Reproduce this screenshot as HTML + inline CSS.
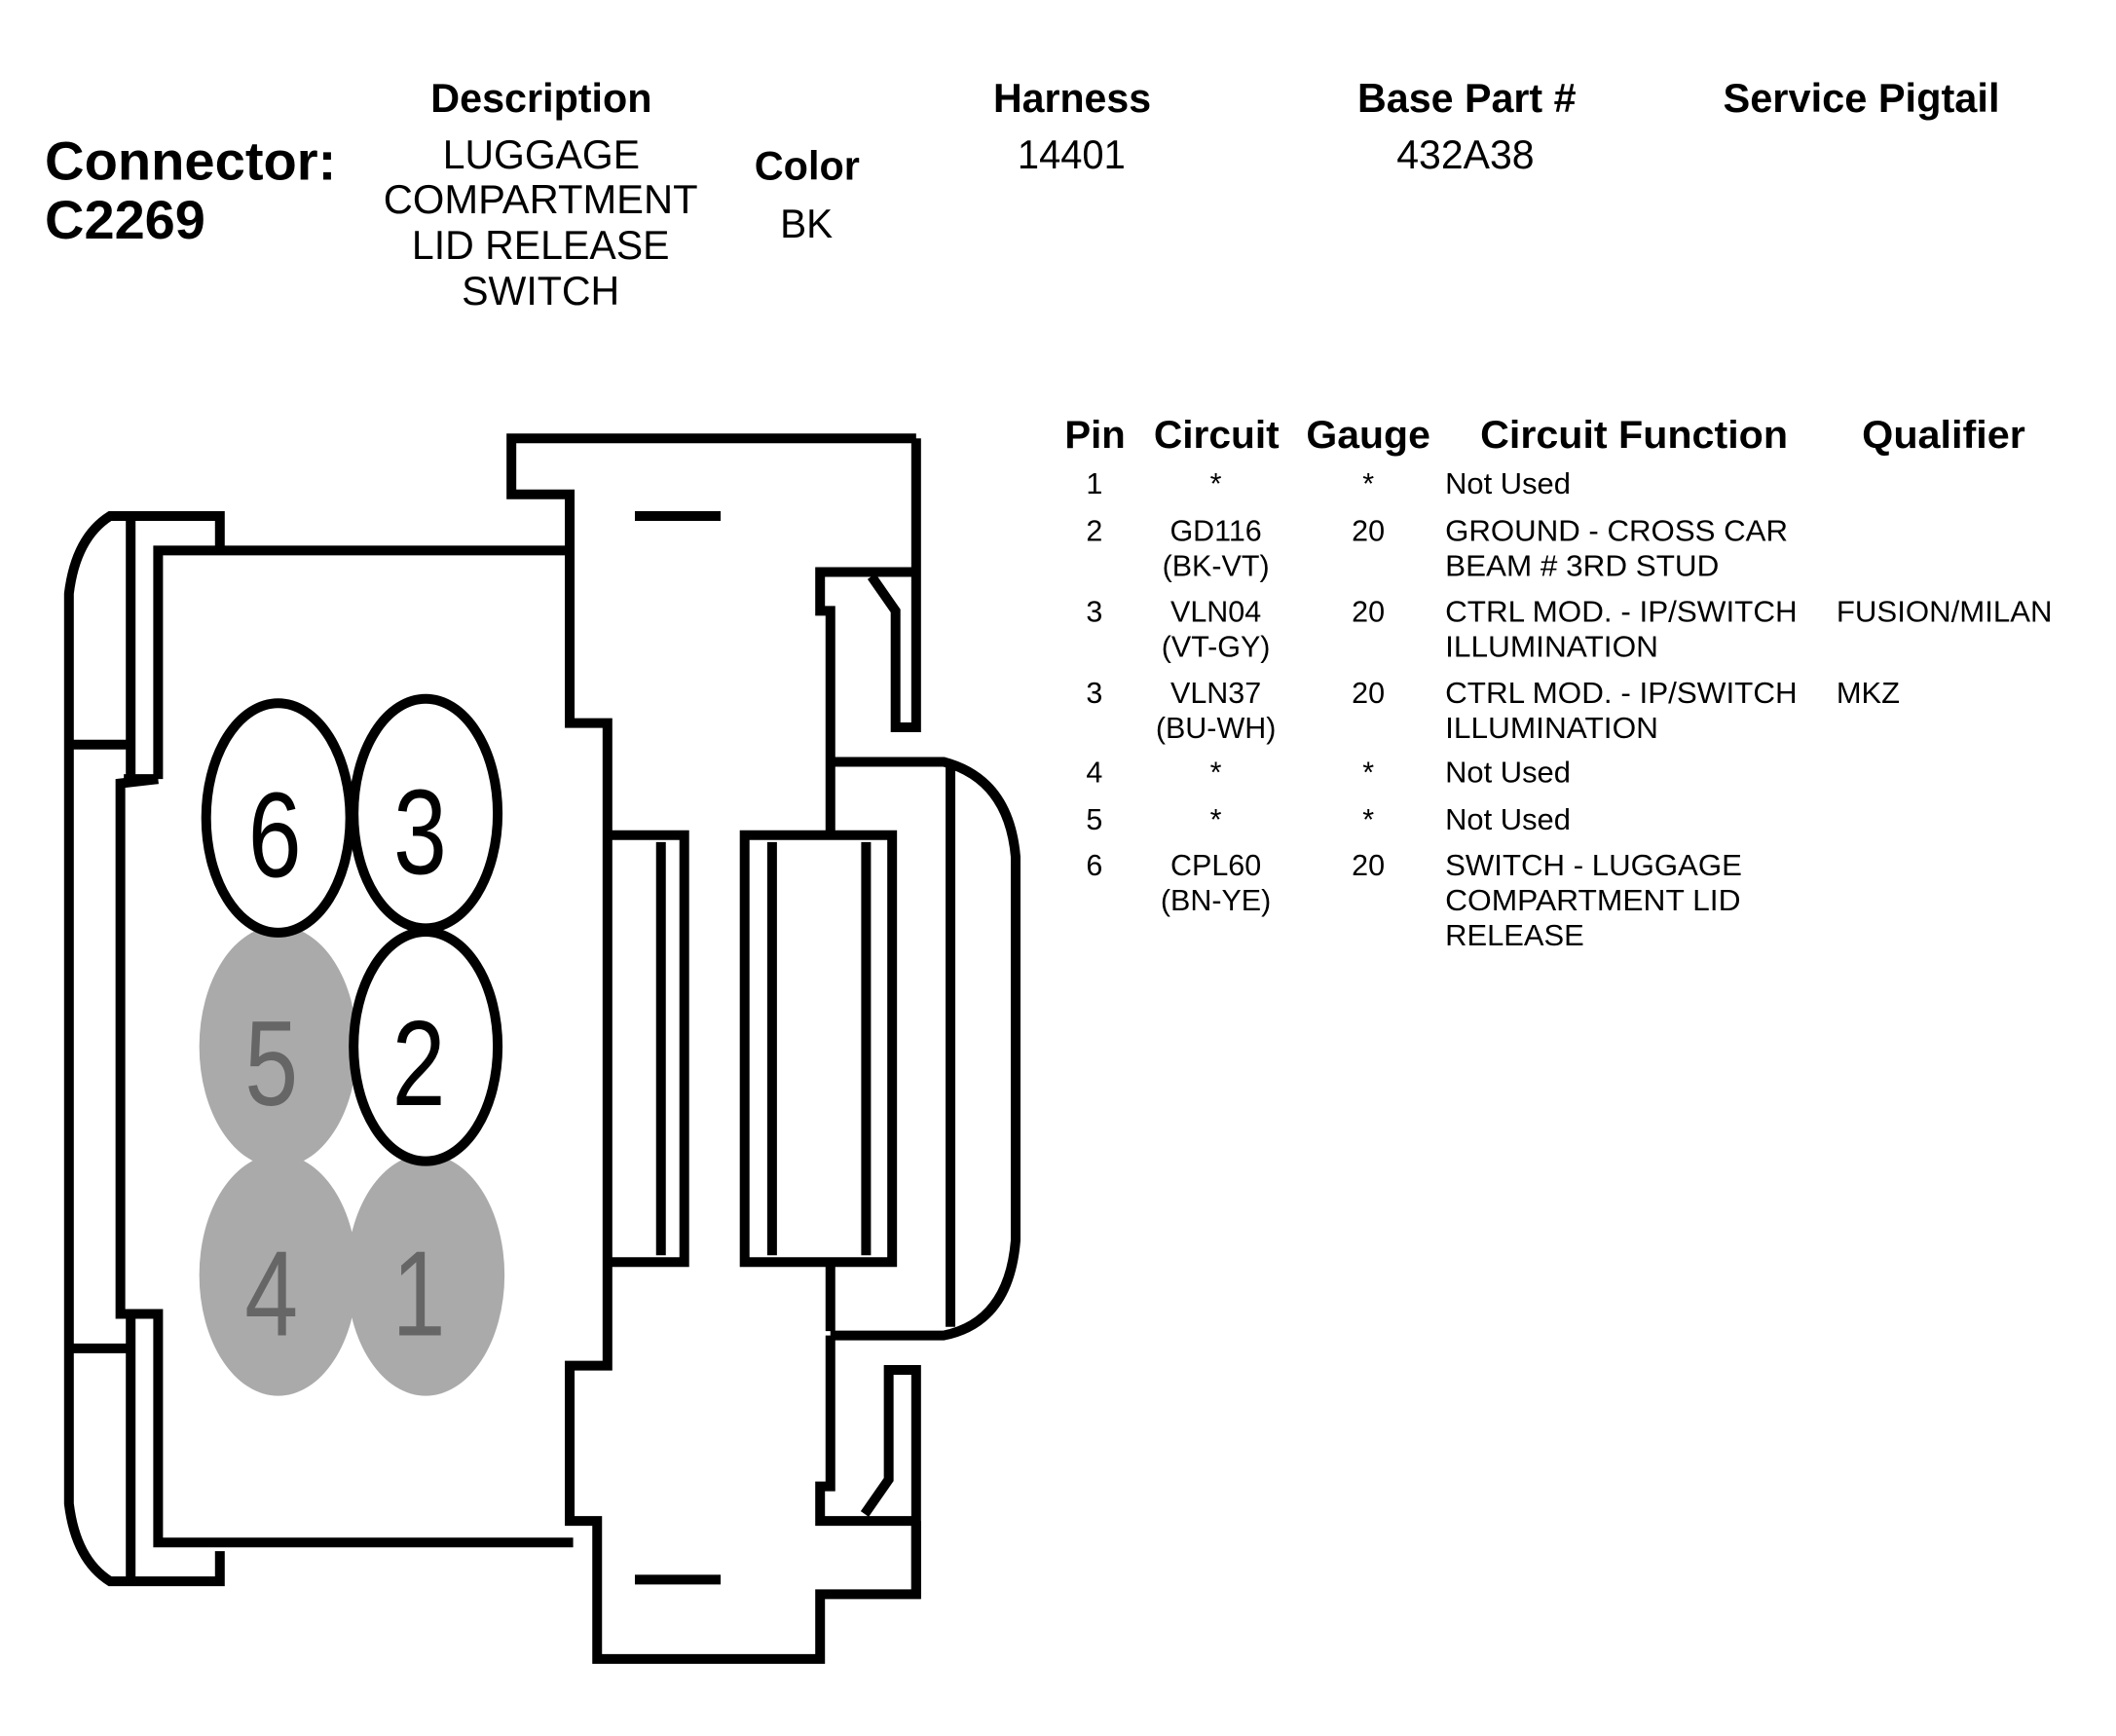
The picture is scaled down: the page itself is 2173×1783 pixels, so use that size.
<!DOCTYPE html>
<html><head><meta charset="utf-8"><style>
html,body{margin:0;padding:0;background:#fff;}
svg{display:block;}
text{font-family:"Liberation Sans",Arial,sans-serif;fill:#000;}
.b{font-weight:bold;}
</style></head><body>
<svg width="2173" height="1783" viewBox="0 0 1568 1287" xmlns="http://www.w3.org/2000/svg">
<rect width="1568" height="1287" fill="#fff"/>
<g font-size="30">
<text class="b" x="33" y="133" font-size="40" textLength="216" lengthAdjust="spacingAndGlyphs">Connector:</text>
<text class="b" x="33" y="177" font-size="40" textLength="119" lengthAdjust="spacingAndGlyphs">C2269</text>
<text class="b" x="319" y="83" textLength="164" lengthAdjust="spacingAndGlyphs">Description</text>
<text x="328" y="125" textLength="146" lengthAdjust="spacingAndGlyphs">LUGGAGE</text>
<text x="284" y="158" textLength="233" lengthAdjust="spacingAndGlyphs">COMPARTMENT</text>
<text x="305" y="192" textLength="191" lengthAdjust="spacingAndGlyphs">LID RELEASE</text>
<text x="342" y="226" textLength="117" lengthAdjust="spacingAndGlyphs">SWITCH</text>
<text class="b" x="559" y="133" textLength="78" lengthAdjust="spacingAndGlyphs">Color</text>
<text x="578" y="176" textLength="39" lengthAdjust="spacingAndGlyphs">BK</text>
<text class="b" x="736" y="83" textLength="117" lengthAdjust="spacingAndGlyphs">Harness</text>
<text x="754" y="125" textLength="80" lengthAdjust="spacingAndGlyphs">14401</text>
<text class="b" x="1006" y="83" textLength="162" lengthAdjust="spacingAndGlyphs">Base Part #</text>
<text x="1035" y="125" textLength="102" lengthAdjust="spacingAndGlyphs">432A38</text>
<text class="b" x="1277" y="83" textLength="205" lengthAdjust="spacingAndGlyphs">Service Pigtail</text>
</g>
<g font-size="29">
<text class="b" x="789" y="332" textLength="45" lengthAdjust="spacingAndGlyphs">Pin</text>
<text class="b" x="855" y="332" textLength="93" lengthAdjust="spacingAndGlyphs">Circuit</text>
<text class="b" x="968" y="332" textLength="92" lengthAdjust="spacingAndGlyphs">Gauge</text>
<text class="b" x="1097" y="332" textLength="228" lengthAdjust="spacingAndGlyphs">Circuit Function</text>
<text class="b" x="1380" y="332" textLength="121" lengthAdjust="spacingAndGlyphs">Qualifier</text>
</g>
<g font-size="22">
<g text-anchor="middle">
<text x="811" y="366">1</text><text x="901" y="366">*</text><text x="1014" y="366">*</text>
<text x="811" y="401">2</text><text x="901" y="401">GD116</text><text x="901" y="427">(BK-VT)</text><text x="1014" y="401">20</text>
<text x="811" y="461">3</text><text x="901" y="461">VLN04</text><text x="901" y="487">(VT-GY)</text><text x="1014" y="461">20</text>
<text x="811" y="521">3</text><text x="901" y="521">VLN37</text><text x="901" y="547">(BU-WH)</text><text x="1014" y="521">20</text>
<text x="811" y="580">4</text><text x="901" y="580">*</text><text x="1014" y="580">*</text>
<text x="811" y="615">5</text><text x="901" y="615">*</text><text x="1014" y="615">*</text>
<text x="811" y="649">6</text><text x="901" y="649">CPL60</text><text x="901" y="675">(BN-YE)</text><text x="1014" y="649">20</text>
</g>
<text x="1071" y="366" textLength="93" lengthAdjust="spacingAndGlyphs">Not Used</text>
<text x="1071" y="401" textLength="254" lengthAdjust="spacingAndGlyphs">GROUND - CROSS CAR</text>
<text x="1071" y="427" textLength="203" lengthAdjust="spacingAndGlyphs">BEAM # 3RD STUD</text>
<text x="1071" y="461" textLength="261" lengthAdjust="spacingAndGlyphs">CTRL MOD. - IP/SWITCH</text>
<text x="1071" y="487" textLength="158" lengthAdjust="spacingAndGlyphs">ILLUMINATION</text>
<text x="1361" y="461" textLength="160" lengthAdjust="spacingAndGlyphs">FUSION/MILAN</text>
<text x="1071" y="521" textLength="261" lengthAdjust="spacingAndGlyphs">CTRL MOD. - IP/SWITCH</text>
<text x="1071" y="547" textLength="158" lengthAdjust="spacingAndGlyphs">ILLUMINATION</text>
<text x="1361" y="521" textLength="47" lengthAdjust="spacingAndGlyphs">MKZ</text>
<text x="1071" y="580" textLength="93" lengthAdjust="spacingAndGlyphs">Not Used</text>
<text x="1071" y="615" textLength="93" lengthAdjust="spacingAndGlyphs">Not Used</text>
<text x="1071" y="649" textLength="220" lengthAdjust="spacingAndGlyphs">SWITCH - LUGGAGE</text>
<text x="1071" y="675" textLength="219" lengthAdjust="spacingAndGlyphs">COMPARTMENT LID</text>
<text x="1071" y="701" textLength="103" lengthAdjust="spacingAndGlyphs">RELEASE</text>
</g>
<g transform="translate(0,283.4) scale(0.5085,0.6395)" fill="none" stroke="#000" stroke-width="10" stroke-linejoin="miter">
<g vector-effect="non-scaling-stroke">
<path vector-effect="non-scaling-stroke" d="M320,190 L320,155 L160,155 Q110,180 100,245 L100,1300 Q110,1365 160,1390 L320,1390 L320,1355"/>
<path vector-effect="non-scaling-stroke" d="M190,160 L190,460 M190,1085 L190,1390"/>
<path vector-effect="non-scaling-stroke" d="M100,420 L185,420 M100,1120 L185,1120"/>
<path vector-effect="non-scaling-stroke" d="M230,460 L230,195 L835,195"/>
<path vector-effect="non-scaling-stroke" d="M230,460 L175,465 L175,1080 L230,1080 L230,1345 L835,1345"/>
<path vector-effect="non-scaling-stroke" d="M180,460 L230,460"/>
<path vector-effect="non-scaling-stroke" d="M1335,65 L745,65 L745,130 L830,130 L830,395 L885,395 L885,1140 L830,1140 L830,1320 L870,1320 L870,1480 L1195,1480 L1195,1405 L1335,1405 L1335,1320"/>
<path vector-effect="non-scaling-stroke" d="M885,525 L997,525 L997,1020 L885,1020"/>
<path vector-effect="non-scaling-stroke" d="M963,533 L963,1012"/>
<rect vector-effect="non-scaling-stroke" x="1085" y="525" width="215" height="495"/>
<path vector-effect="non-scaling-stroke" d="M1125,533 L1125,1012 M1262,533 L1262,1012"/>
<path vector-effect="non-scaling-stroke" d="M1335,65 L1335,400 L1305,400 L1305,265 L1270,225 M1335,220 L1195,220 L1195,265 L1210,265 L1210,525"/>
<path vector-effect="non-scaling-stroke" d="M1210,1020 L1210,1100"/>
<path vector-effect="non-scaling-stroke" d="M1210,440 L1375,440 Q1470,460 1480,550 L1480,995 Q1470,1090 1375,1105 L1210,1105"/>
<path vector-effect="non-scaling-stroke" d="M1385,445 L1385,1095"/>
<path vector-effect="non-scaling-stroke" d="M1210,1105 L1210,1280 L1195,1280 L1195,1320 L1335,1320 M1260,1312 L1295,1272 L1295,1145 L1335,1145 L1335,1410"/>
<path vector-effect="non-scaling-stroke" d="M925,155 L1050,155 M925,1388 L1050,1388"/>
</g>
</g>
<g transform="translate(0,283.4) scale(0.5085,0.6395)">
<ellipse cx="405" cy="770" rx="115" ry="140" fill="#aaa"/>
<ellipse cx="405" cy="1035" rx="115" ry="140" fill="#aaa"/>
<ellipse cx="620" cy="1035" rx="115" ry="140" fill="#aaa"/>
<ellipse cx="405" cy="505" rx="105" ry="133" fill="#fff" stroke="#000" stroke-width="10" vector-effect="non-scaling-stroke"/>
<ellipse cx="620" cy="500" rx="105" ry="133" fill="#fff" stroke="#000" stroke-width="10" vector-effect="non-scaling-stroke"/>
<ellipse cx="620" cy="770" rx="105" ry="133" fill="#fff" stroke="#000" stroke-width="10" vector-effect="non-scaling-stroke"/>
<g font-size="140" text-anchor="middle">
<text x="400" y="573">6</text>
<text x="612" y="570">3</text>
<text x="610" y="838">2</text>
<text x="395" y="838" style="fill:#666">5</text>
<text x="395" y="1105" style="fill:#666">4</text>
<text x="610" y="1105" style="fill:#666">1</text>
</g>
</g>
</svg>
</body></html>
